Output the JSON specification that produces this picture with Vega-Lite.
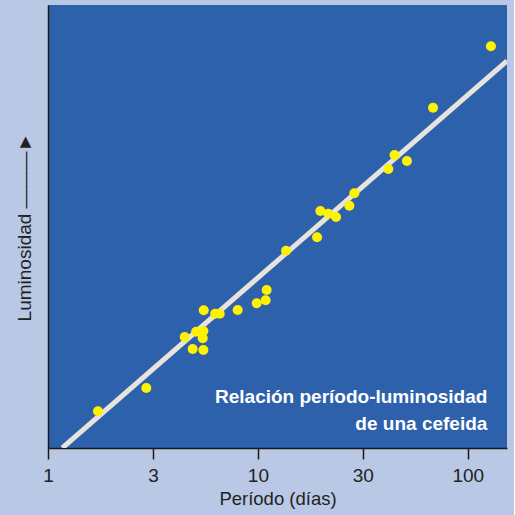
{
  "$schema": "https://vega.github.io/schema/vega-lite/v6.json",
  "autosize": "none",
  "padding": {"left": 48, "top": 5, "right": 7, "bottom": 67},
  "width": 459,
  "height": 443,
  "background": "#b9c8e5",
  "config": {
    "view": {"fill": "#2e61ab", "stroke": null},
    "font": "Liberation Sans"
  },
  "datasets": {
    "stars": [
      {"period": 1.73, "lum": 36.7},
      {"period": 2.94, "lum": 60},
      {"period": 4.48, "lum": 111},
      {"period": 4.89, "lum": 99},
      {"period": 5.5, "lum": 98},
      {"period": 5.08, "lum": 116.3},
      {"period": 5.5, "lum": 117},
      {"period": 5.46, "lum": 109.7},
      {"period": 5.52, "lum": 137.7},
      {"period": 6.26, "lum": 134.3},
      {"period": 6.58, "lum": 134.3},
      {"period": 8.01, "lum": 138},
      {"period": 9.87, "lum": 144.7},
      {"period": 10.89, "lum": 147.7},
      {"period": 11.01, "lum": 158},
      {"period": 13.62, "lum": 197.3},
      {"period": 19.14, "lum": 210.7},
      {"period": 19.85, "lum": 237},
      {"period": 21.66, "lum": 234.3},
      {"period": 23.57, "lum": 231},
      {"period": 27.28, "lum": 242.3},
      {"period": 28.82, "lum": 254.7},
      {"period": 41.82, "lum": 279},
      {"period": 44.8, "lum": 293},
      {"period": 51.32, "lum": 287},
      {"period": 68.3, "lum": 340.3},
      {"period": 128.9, "lum": 401.7}
    ],
    "fit": [
      {"period": 1.17, "lum": 0},
      {"period": 153.8, "lum": 387}
    ],
    "note": [
      {"period": 124, "lum": 45, "label": ["Relación período-luminosidad", "de una cefeida"]}
    ]
  },
  "layer": [
    {
      "data": {"name": "fit"},
      "mark": {"type": "line", "color": "#e7e3dd", "strokeWidth": 5, "strokeCap": "butt", "clip": true},
      "encoding": {
        "x": {
          "field": "period", "type": "quantitative",
          "scale": {"type": "log", "domain": [1, 153.8], "nice": false},
          "axis": {
            "title": "Período (días)",
            "values": [1, 3.1623, 10, 31.623, 100],
            "labelExpr": "datum.value > 2 && datum.value < 5 ? '3' : (datum.value > 20 && datum.value < 50 ? '30' : format(datum.value, 'd'))",
            "grid": false,
            "domainColor": "#1a1a1a",
            "domainWidth": 1.5,
            "tickColor": "#1a1a1a",
            "tickWidth": 1.5,
            "tickSize": 11,
            "labelFontSize": 19,
            "labelColor": "#222222",
            "labelPadding": 7,
            "labelFlush": false,
            "titleFontSize": 18.5,
            "titleFontWeight": "normal",
            "titleColor": "#222222",
            "titlePadding": 4
          }
        },
        "y": {
          "field": "lum", "type": "quantitative",
          "scale": {"domain": [0, 443], "nice": false, "zero": false},
          "axis": {
            "title": "Luminosidad  ———►",
            "ticks": false,
            "labels": false,
            "grid": false,
            "domainColor": "#1a1a1a",
            "domainWidth": 1.5,
            "titleFontSize": 19,
            "titleFontWeight": "normal",
            "titleColor": "#222222",
            "titlePadding": 14
          }
        }
      }
    },
    {
      "data": {"name": "stars"},
      "mark": {"type": "circle", "color": "#fff200", "opacity": 1, "size": 100},
      "encoding": {
        "x": {"field": "period", "type": "quantitative"},
        "y": {"field": "lum", "type": "quantitative"}
      }
    },
    {
      "data": {"name": "note"},
      "mark": {"type": "text", "align": "right", "baseline": "alphabetic", "color": "white", "fontSize": 19, "fontWeight": "bold", "lineHeight": 27},
      "encoding": {
        "x": {"field": "period", "type": "quantitative"},
        "y": {"field": "lum", "type": "quantitative"},
        "text": {"field": "label"}
      }
    }
  ]
}
